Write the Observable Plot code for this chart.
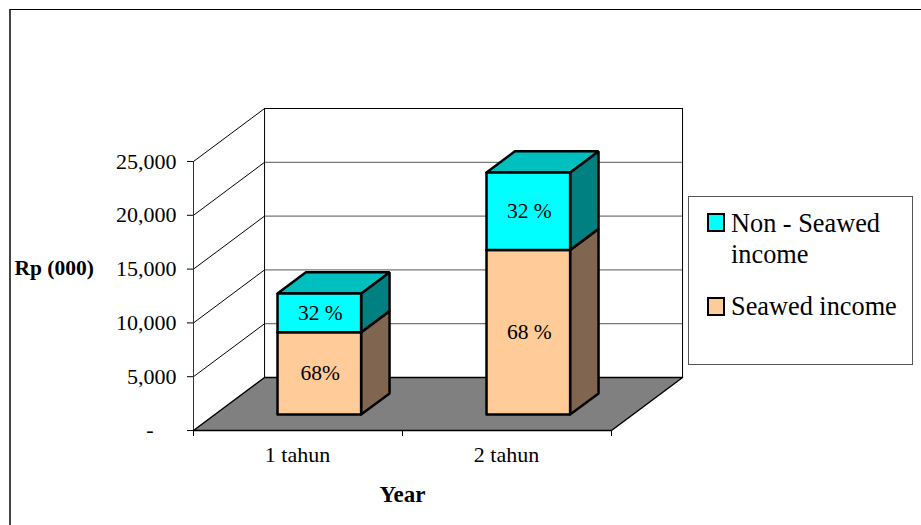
<!DOCTYPE html>
<html>
<head>
<meta charset="utf-8">
<script src="https://cdn.jsdelivr.net/npm/d3@7"></script>
<script src="https://cdn.jsdelivr.net/npm/@observablehq/plot@0.6"></script>
<style>
  html, body { margin: 0; padding: 0; background: #fff; overflow: hidden; }
  #chart { position: relative; width: 921px; height: 525px; font-family: "Liberation Serif", serif; color: #000; }
  #chart svg { position: absolute; left: 0; top: 0; }
  #border { position: absolute; left: 9px; top: 9px; right: 0; bottom: 0; border-top: 1px solid #000; border-left: 2px solid #444; }
  #legend { position: absolute; left: 688px; top: 196px; width: 223px; height: 167px; border: 1px solid #555; background: #fff; font-size: 26.3px; line-height: 31px; }
  #legend .swatch { position: absolute; left: 18px; width: 14px; height: 15px; border: 2px solid #000; }
  #legend .label { position: absolute; left: 42px; width: 178px; }
</style>
</head>
<body>
<div id="chart"><div id="border"></div></div>
<script>
// Income per farmer by length of seaweed farming, Rp (000)
const categories = ["1 tahun", "2 tahun"];
const seawedIncome = [7650, 15300];
const nonSeawedIncome = [3600, 7200];
const seawedLabels = ["68%", "68 %"];
const nonSeawedLabels = ["32 %", "32 %"];
const yTicks = [0, 5000, 10000, 15000, 20000, 25000];

// Oblique projection: a unit of depth shifts a point right and up, in data units
const depthX = 0.34;
const depthY = 4925;
const barWidth = 0.4;
const barDepth = [0.3, 0.7];
const project = (x, y, d) => ({x: x + d * depthX, y: y + d * depthY});

const series = [
  {values: seawedIncome, labels: seawedLabels, front: "#ffcc99", side: "#806650", top: "#bf9973"},
  {values: nonSeawedIncome, labels: nonSeawedLabels, front: "#00ffff", side: "#008080", top: "#00bfbf"}
];

// Closed polygons for each visible face of the stacked boxes
const faces = [];
const labels = [];
categories.forEach((category, i) => {
  const x0 = i + 0.5 - barWidth / 2;
  const x1 = i + 0.5 + barWidth / 2;
  const [d0, d1] = barDepth;
  let base = 0;
  series.forEach((s, k) => {
    const lo = base;
    const hi = base + s.values[i];
    const face = (name, fill, corners) => {
      corners.concat([corners[0]]).forEach(([x, y, d]) => {
        faces.push({id: `${category}-${k}-${name}`, fill, ...project(x, y, d)});
      });
    };
    face("side", s.side, [[x1, lo, d0], [x1, lo, d1], [x1, hi, d1], [x1, hi, d0]]);
    face("top", s.top, [[x0, hi, d0], [x1, hi, d0], [x1, hi, d1], [x0, hi, d1]]);
    face("front", s.front, [[x0, lo, d0], [x1, lo, d0], [x1, hi, d0], [x0, hi, d0]]);
    labels.push({text: s.labels[i], ...project(i + 0.5, (lo + hi) / 2, d0)});
    base = hi;
  });
});

const floor = [[0, 0, 0], [0, 0, 1], [2, 0, 1], [2, 0, 0], [0, 0, 0]].map(([x, y, d]) => project(x, y, d));
const gridTicks = yTicks.filter((v) => v > 0);

const plot = Plot.plot({
  width: 921,
  height: 525,
  marginLeft: 193,
  marginRight: 310,
  marginTop: 161,
  marginBottom: 95,
  x: {domain: [0, 2], range: [193, 611]},
  y: {domain: [0, 25000], range: [430, 161]},
  color: {type: "identity"},
  style: {fontFamily: "'Liberation Serif', serif", fontSize: "22px", color: "#000", background: "transparent", overflow: "visible"},
  marks: [
    // Gridlines across the back wall, then down the left wall
    Plot.link(gridTicks, {x1: depthX, x2: 2 + depthX, y1: (v) => v + depthY, y2: (v) => v + depthY, stroke: (v) => v === 25000 ? "#000" : "#555", strokeWidth: 1}),
    Plot.link(gridTicks, {x1: 0, y1: (v) => v, x2: depthX, y2: (v) => v + depthY, stroke: "#000", strokeWidth: 1}),
    Plot.ruleX([depthX, 2 + depthX], {y1: depthY, y2: 25000 + depthY, stroke: "#000", strokeWidth: 1}),
    Plot.ruleX([0], {y1: 0, y2: 25000, stroke: "#333", strokeWidth: 1}),
    // Floor of the chart
    Plot.line(floor, {x: "x", y: "y", fill: "#808080", stroke: "#000", strokeWidth: 1.5}),
    // Stacked boxes
    Plot.line(faces, {x: "x", y: "y", z: "id", fill: "fill", stroke: "#000", strokeWidth: 2.5, strokeLinejoin: "miter"}),
    Plot.text(labels, {x: "x", y: "y", text: "text", fill: "#000", fontSize: 21.5, dx: 1}),
    // Tick marks on both axes, then their labels
    Plot.axisY({ticks: yTicks, tickSize: 6, fill: "none", anchor: "left", label: null}),
    Plot.axisY({ticks: gridTicks, tickSize: 0, tickPadding: 17, tickFormat: d3.format(","), anchor: "left", label: null, fontSize: 22}),
    Plot.text([0], {x: () => 0, y: (d) => d, text: () => "-", textAnchor: "end", dx: -40, dy: -1, fontSize: 22}),
    Plot.axisX({ticks: [0, 1, 2], tickSize: 6, fill: "none", label: null}),
    Plot.text(categories, {x: (d, i) => i + 0.5, y: () => 0, text: (d) => d, dx: -0.5, dy: 24.5, fontSize: 22}),
    // Axis titles
    Plot.text(["Year"], {x: () => 1, y: () => 0, text: (d) => d, dy: 64.5, fontSize: 23, fontWeight: "bold"}),
    Plot.text(["Rp (000)"], {x: () => 0, y: () => 15100, text: (d) => d, textAnchor: "start", dx: -179, fontSize: 21.5, fontWeight: "bold"})
  ]
});

const chart = document.getElementById("chart");
chart.appendChild(plot);

// Legend box beside the plot
const legend = document.createElement("div");
legend.id = "legend";
legend.innerHTML = `
  <div class="swatch" style="top:16px;background:#00ffff"></div>
  <div class="label" style="top:11px">Non - Seawed<br>income</div>
  <div class="swatch" style="top:100px;background:#ffcc99"></div>
  <div class="label" style="top:94px">Seawed income</div>`;
chart.appendChild(legend);
</script>
</body>
</html>
